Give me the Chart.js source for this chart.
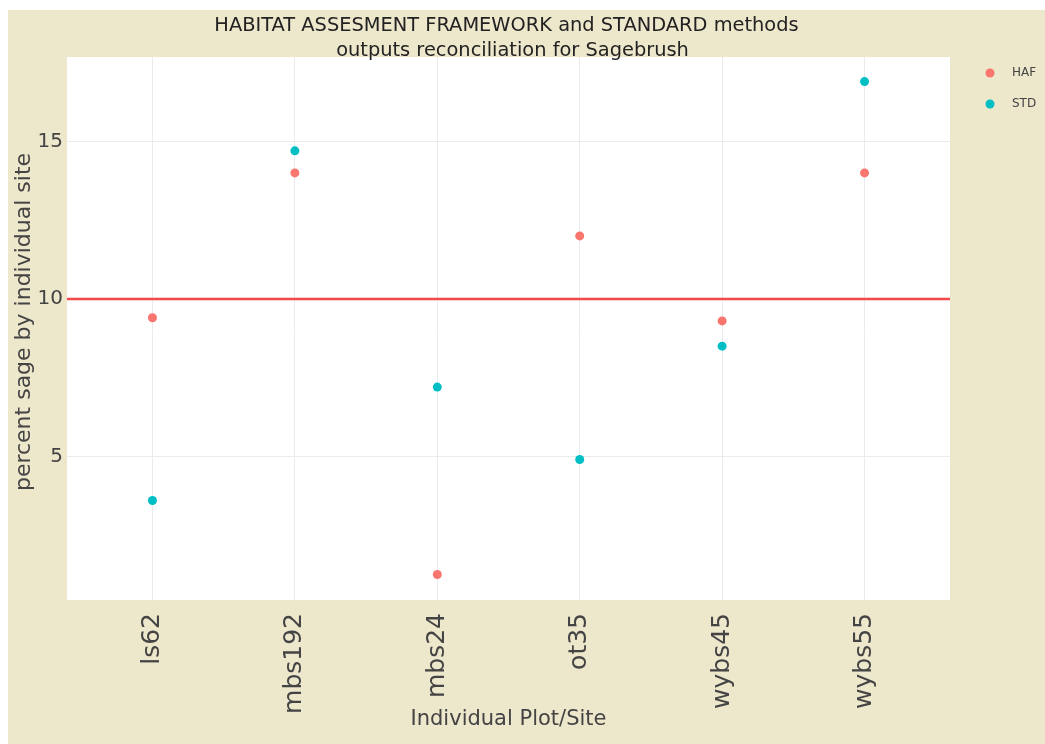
<!DOCTYPE html>
<html><head><meta charset="utf-8">
<script src="https://cdn.jsdelivr.net/npm/chart.js@4.4.1/dist/chart.umd.min.js"></script>
<style>
html,body{margin:0;padding:0;background:#fff;}
#wrap{position:absolute;left:8px;top:10px;width:1037px;height:734px;}
</style></head><body>
<div id="wrap"><canvas id="c" width="1037" height="734"></canvas></div>
<script>
const sites = ['ls62','mbs192','mbs24','ot35','wybs45','wybs55'];
const hafValues = [9.4, 14.0, 1.25, 12.0, 9.3, 14.0];
const stdValues = [3.6, 14.7, 7.2, 4.9, 8.5, 16.9];
const yTickValues = [5, 10, 15];
const referenceLine = 10;
const seriesNames = ['HAF', 'STD'];
const seriesColors = ['#F8766D', '#00BFC4'];
const titleLines = ['HABITAT ASSESMENT FRAMEWORK and STANDARD methods', 'outputs reconciliation for Sagebrush'];
const xTitle = 'Individual Plot/Site';
const yTitle = 'percent sage by individual site';

const FONT = 'DejaVu Sans';
const TXT = '#444';
const BG = '#ede7cc';

const decor = {
  id: 'decor',
  beforeDraw(chart) {
    const {ctx, chartArea: a} = chart;
    ctx.save();
    ctx.fillStyle = BG;
    ctx.fillRect(0, 0, chart.width, chart.height);
    ctx.fillStyle = '#fff';
    ctx.fillRect(a.left, a.top, a.right - a.left, a.bottom - a.top);
    ctx.restore();
  },
  afterDraw(chart) {
    const {ctx, chartArea: a} = chart;
    ctx.save();
    // title
    ctx.fillStyle = '#222';
    ctx.font = '19.4px "' + FONT + '"';
    ctx.textAlign = 'center';
    ctx.textBaseline = 'middle';
    const cx = (a.left + a.right) / 2;
    ctx.fillText(titleLines[0], cx - 2, 16);
    ctx.fillText(titleLines[1], cx + 4, 41);
    // y title
    ctx.fillStyle = TXT;
    ctx.font = '22px "' + FONT + '"';
    ctx.translate(16, 312);
    ctx.rotate(-Math.PI / 2);
    ctx.fillText(yTitle, 0, 0);
    ctx.restore();
    // legend
    ctx.save();
    ctx.font = '12px "' + FONT + '"';
    ctx.textAlign = 'left';
    ctx.textBaseline = 'middle';
    seriesNames.forEach((n, i) => {
      const y = 63 + i * 31;
      ctx.fillStyle = seriesColors[i];
      ctx.beginPath();
      ctx.arc(982, y, 4.5, 0, Math.PI * 2);
      ctx.fill();
      ctx.fillStyle = TXT;
      ctx.fillText(n, 1004, y);
    });
    ctx.restore();
  }
};

const toPts = vals => vals.map((v, i) => ({x: i, y: v}));

new Chart(document.getElementById('c'), {
  type: 'scatter',
  data: {
    datasets: [
      {label: seriesNames[0], data: toPts(hafValues), backgroundColor: seriesColors[0], borderWidth: 0, pointRadius: 4.5, order: 1},
      {label: seriesNames[1], data: toPts(stdValues), backgroundColor: seriesColors[1], borderWidth: 0, pointRadius: 4.5, order: 1},
      {type: 'line', label: 'ref', data: [{x: -0.6, y: referenceLine}, {x: 5.6, y: referenceLine}],
       borderColor: '#f44848', borderWidth: 2.5, pointRadius: 0, showLine: true, order: 2}
    ]
  },
  options: {
    responsive: false,
    animation: false,
    devicePixelRatio: 1,
    layout: {padding: {top: 47, right: 95, left: 0, bottom: 0}},
    plugins: {legend: {display: false}, title: {display: false}, tooltip: {enabled: false}},
    scales: {
      x: {
        type: 'linear', min: -0.6, max: 5.6,
        afterBuildTicks: s => { s.ticks = sites.map((_, i) => ({value: i})); },
        afterFit: s => { s.height = 144; },
        ticks: {callback: v => sites[v], minRotation: 90, maxRotation: 90, autoSkip: false, padding: 13,
                font: {family: FONT, size: 25}, color: TXT},
        grid: {color: '#ebebeb', drawTicks: false},
        border: {display: false},
        title: {display: true, text: xTitle, font: {family: FONT, size: 21}, color: TXT, padding: {top: 0, bottom: 12}}
      },
      y: {
        min: 0.44, max: 17.68,
        afterBuildTicks: s => { s.ticks = yTickValues.map(v => ({value: v})); },
        afterFit: s => { s.width = 59; },
        ticks: {padding: 4, font: {family: FONT, size: 20}, color: TXT},
        grid: {color: '#ebebeb', drawTicks: false},
        border: {display: false}
      }
    }
  },
  plugins: [decor]
});
</script>
</body></html>
